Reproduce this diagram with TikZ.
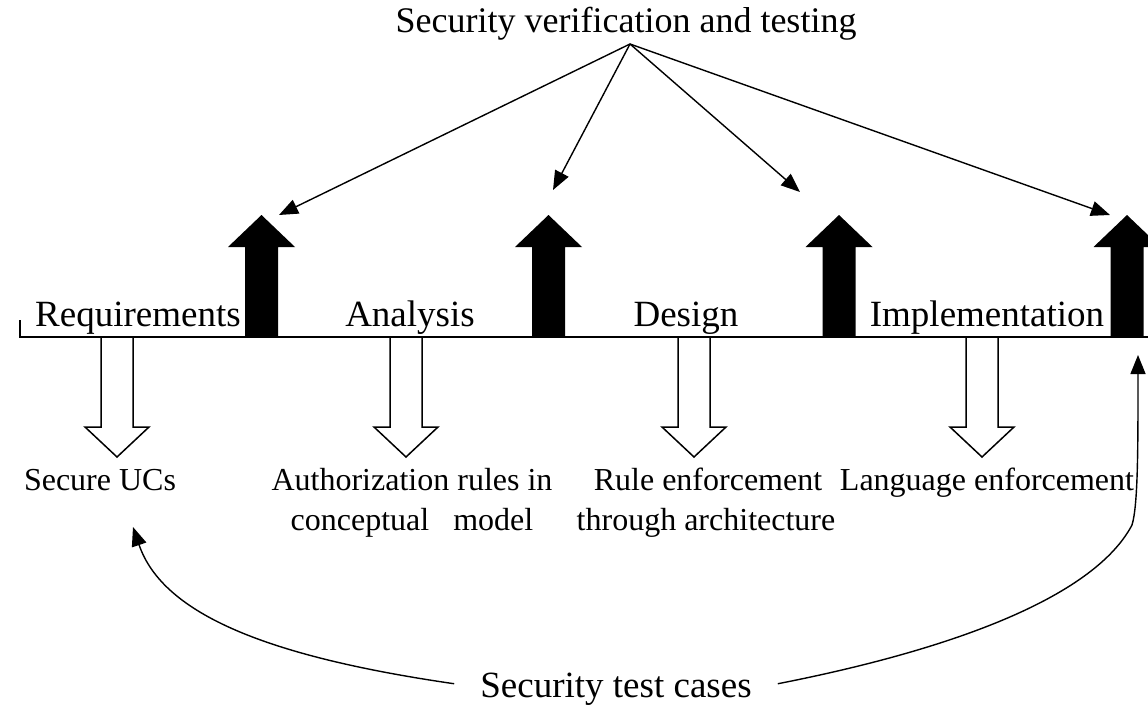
\documentclass[tikz,border=0pt]{standalone}
\usepackage{fontspec}
\setmainfont{Liberation Serif}
\usetikzlibrary{arrows.meta}
\tikzset{
  upblack/.pic={\fill[black] (-16.5,0) -- (-16.5,-90) -- (-33.5,-90) -- (0,-122) -- (33.5,-90) -- (16.5,-90) -- (16.5,0) -- cycle;},
  downhollow/.pic={\draw[fill=white, line width=1.5pt, line join=miter] (-16,0) -- (-16,90) -- (-32,90) -- (0,120) -- (32,90) -- (16,90) -- (16,0);},
  conn/.style={line width=1.4pt, -{Triangle[length=19pt,width=15pt]}},
  bigtxt/.style={font=\fontsize{37}{44}\selectfont, inner sep=0pt, anchor=base},
  titletxt/.style={font=\fontsize{36}{43}\selectfont, inner sep=0pt, anchor=base},
  smalltxt/.style={font=\fontsize{32}{40}\selectfont, inner sep=0pt, anchor=base},
}
\begin{document}
\begin{tikzpicture}[x=1pt,y=-1pt]
\useasboundingbox (0,0) rectangle (1148,706);
% hollow down arrows
\pic at (117,337) {downhollow};
\pic at (406,337) {downhollow};
\pic at (694,337) {downhollow};
\pic at (982,337) {downhollow};
% time line
\draw[line width=1.5pt] (20,320) -- (20,337) -- (1160,337);
% black up arrows
\pic at (261.5,337) {upblack};
\pic at (548.5,337) {upblack};
\pic at (839,337) {upblack};
\pic at (1127,337) {upblack};
% phase labels
\node[bigtxt] (req) at (138,326) {Requirements};
\node[bigtxt] (ana) at (410,326) {Analysis};
\node[bigtxt] (des) at (686,326) {Design};
\node[bigtxt] (imp) at (987,326) {Implementation};
% outputs
\node[smalltxt] (ucs) at (100,490) {Secure UCs};
\node[smalltxt] (auth1) at (412,490) {Authorization rules in};
\node[smalltxt] (auth2) at (412,530) {conceptual\ \ \ model};
\node[smalltxt] (rule1) at (708,490) {Rule enforcement};
\node[smalltxt] (rule2) at (706,530) {through architecture};
\node[smalltxt] (lang) at (987,490) {Language enforcement};
% top and bottom
\node[titletxt] (title) at (626,33) {Security verification and testing};
\node[bigtxt, inner xsep=26pt] (stc) at (616,697) {Security test cases};
\coordinate (vt) at (630,44);
\coordinate (t1) at (279,215);
\coordinate (t2) at (553,190);
\coordinate (t3) at (800,192);
\coordinate (t4) at (1110,215);
\coordinate (tucs) at (133,527);
\coordinate (timp) at (1138,355);
\draw[conn] (vt) -- (t1);
\draw[conn] (vt) -- (t2);
\draw[conn] (vt) -- (t3);
\draw[conn] (vt) -- (t4);
\draw[conn] ([yshift=5pt]stc.west) .. controls (270,657) and (163,615) .. (tucs);
\draw[conn] ([yshift=5pt]stc.east) .. controls (960,648) and (1095,595) .. (1132,525) .. controls (1138,505) and (1138,450) .. (timp);
\end{tikzpicture}
\end{document}
